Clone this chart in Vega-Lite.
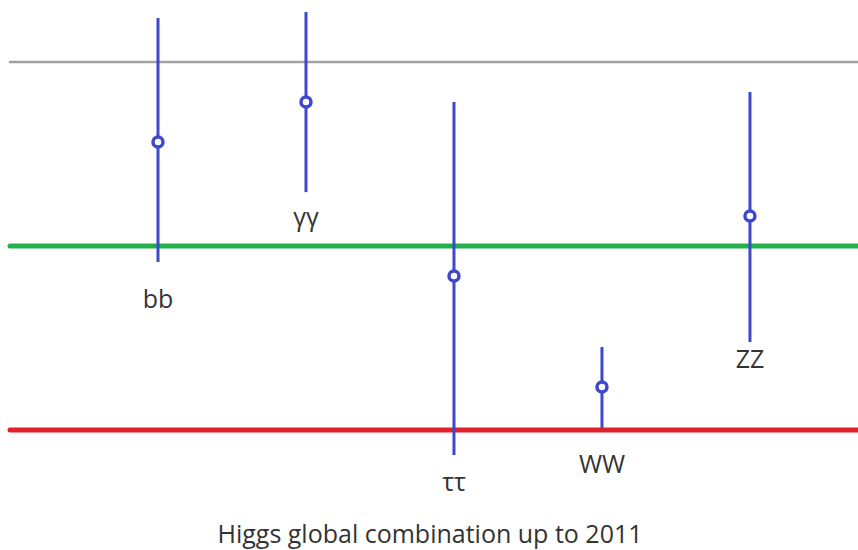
{
  "$schema": "https://vega.github.io/schema/vega-lite/v6.json",
  "width": 858,
  "height": 550,
  "padding": 0,
  "autosize": {"type": "none"},
  "background": "white",
  "config": {"view": {"stroke": null}},
  "datasets": {
    "refs": [
      {"name": "ref2", "y": 2.0, "x0": 0, "x1": 5.73, "color": "#a0a0a0", "w": 2.5},
      {"name": "ref1", "y": 1.0, "x0": 0, "x1": 5.73, "color": "#22b14c", "w": 5},
      {"name": "ref0", "y": 0.0, "x0": 0, "x1": 5.73, "color": "#e0202a", "w": 5}
    ],
    "channels": [
      {"channel": "bb", "pos": 1, "mu": 1.565, "lo": 0.913, "hi": 2.239, "ly": 0.707},
      {"channel": "γγ", "pos": 2, "mu": 1.783, "lo": 1.293, "hi": 2.272, "ly": 1.152},
      {"channel": "ττ", "pos": 3, "mu": 0.837, "lo": -0.136, "hi": 1.783, "ly": -0.288},
      {"channel": "WW", "pos": 4, "mu": 0.234, "lo": 0.011, "hi": 0.451, "ly": -0.19},
      {"channel": "ZZ", "pos": 5, "mu": 1.163, "lo": 0.478, "hi": 1.837, "ly": 0.38}
    ],
    "caption": [
      {"text": "Higgs global combination up to 2011", "x": 2.838, "y": -0.571}
    ]
  },
  "layer": [
    {
      "data": {"name": "refs"},
      "mark": {"type": "rule", "strokeCap": "round"},
      "encoding": {
        "x": {"field": "x0", "type": "quantitative", "scale": {"domain": [-0.0676, 5.73], "nice": false, "zero": false}, "axis": null},
        "x2": {"field": "x1"},
        "y": {"field": "y", "type": "quantitative", "scale": {"domain": [-0.652, 2.337], "nice": false, "zero": false}, "axis": null},
        "color": {"field": "color", "type": "nominal", "scale": null, "legend": null},
        "strokeWidth": {"field": "w", "type": "quantitative", "scale": null, "legend": null}
      }
    },
    {
      "data": {"name": "channels"},
      "mark": {"type": "rule", "color": "#3f48cc", "strokeWidth": 3},
      "encoding": {
        "x": {"field": "pos", "type": "quantitative"},
        "y": {"field": "lo", "type": "quantitative"},
        "y2": {"field": "hi"}
      }
    },
    {
      "data": {"name": "channels"},
      "mark": {"type": "point", "shape": "circle", "filled": false, "fill": "white", "fillOpacity": 1, "stroke": "#3f48cc", "strokeWidth": 3.5, "size": 100, "opacity": 1},
      "encoding": {
        "x": {"field": "pos", "type": "quantitative"},
        "y": {"field": "mu", "type": "quantitative"}
      }
    },
    {
      "data": {"name": "channels"},
      "mark": {"type": "text", "font": "Open Sans", "fontSize": 25, "color": "#333333", "baseline": "middle", "align": "center"},
      "encoding": {
        "x": {"field": "pos", "type": "quantitative"},
        "y": {"field": "ly", "type": "quantitative"},
        "text": {"field": "channel"}
      }
    },
    {
      "data": {"name": "caption"},
      "mark": {"type": "text", "font": "Open Sans", "fontSize": 25, "color": "#333333", "baseline": "middle", "align": "center"},
      "encoding": {
        "x": {"field": "x", "type": "quantitative"},
        "y": {"field": "y", "type": "quantitative"},
        "text": {"field": "text"}
      }
    }
  ]
}
